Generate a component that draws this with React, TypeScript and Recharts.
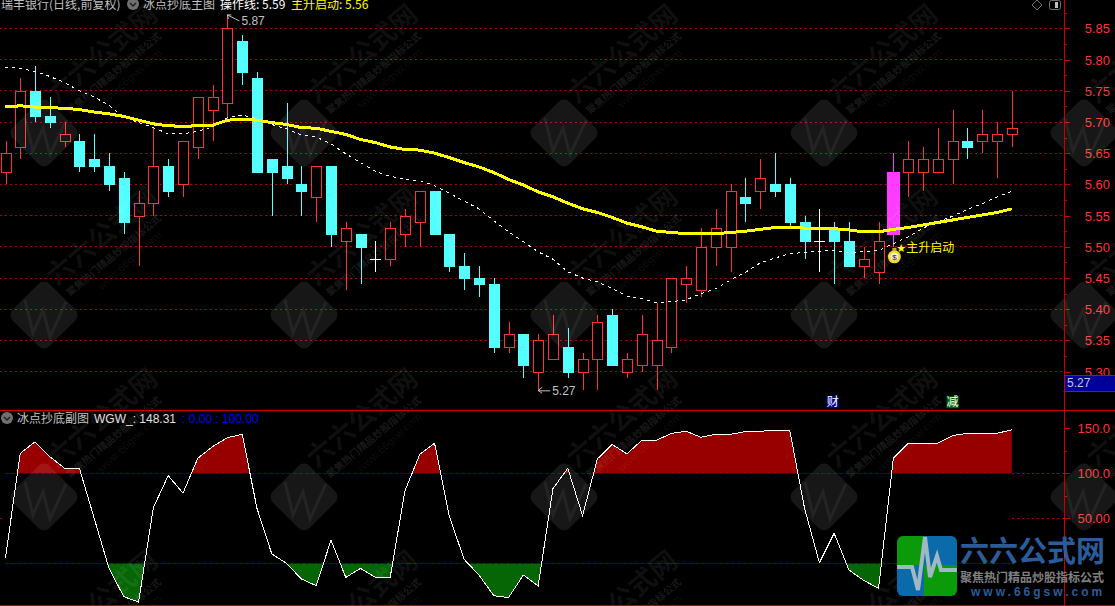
import { Area, Bar, CartesianGrid, ComposedChart, Line, ReferenceDot, ReferenceLine, XAxis, YAxis } from 'recharts';

const opens = [5.62, 5.66, 5.75, 5.71, 5.67, 5.67, 5.64, 5.63, 5.61, 5.55, 5.57, 5.63, 5.60, 5.66, 5.72, 5.73, 5.83, 5.77, 5.64, 5.63, 5.60, 5.58, 5.63, 5.51, 5.52, 5.48, 5.48, 5.52, 5.54, 5.59, 5.52, 5.47, 5.45, 5.44, 5.34, 5.36, 5.30, 5.32, 5.34, 5.30, 5.32, 5.39, 5.30, 5.31, 5.31, 5.34, 5.44, 5.43, 5.50, 5.50, 5.58, 5.59, 5.60, 5.60, 5.54, 5.51, 5.53, 5.51, 5.47, 5.46, 5.52, 5.62, 5.62, 5.62, 5.64, 5.67, 5.67, 5.67, 5.68];
const closes = [5.65, 5.75, 5.71, 5.70, 5.68, 5.63, 5.63, 5.60, 5.54, 5.57, 5.63, 5.59, 5.67, 5.74, 5.74, 5.85, 5.78, 5.62, 5.62, 5.61, 5.59, 5.63, 5.52, 5.53, 5.50, 5.48, 5.53, 5.55, 5.59, 5.52, 5.47, 5.45, 5.44, 5.34, 5.36, 5.31, 5.35, 5.36, 5.30, 5.32, 5.38, 5.31, 5.32, 5.36, 5.35, 5.45, 5.45, 5.50, 5.53, 5.59, 5.57, 5.61, 5.59, 5.54, 5.51, 5.51, 5.51, 5.47, 5.48, 5.51, 5.62, 5.64, 5.64, 5.64, 5.67, 5.66, 5.68, 5.68, 5.69];
const highs = [5.67, 5.77, 5.79, 5.74, 5.70, 5.68, 5.68, 5.65, 5.62, 5.59, 5.69, 5.64, 5.67, 5.74, 5.76, 5.87, 5.84, 5.78, 5.64, 5.73, 5.63, 5.63, 5.63, 5.54, 5.52, 5.51, 5.54, 5.56, 5.59, 5.59, 5.52, 5.49, 5.47, 5.45, 5.38, 5.36, 5.36, 5.39, 5.37, 5.33, 5.39, 5.40, 5.33, 5.39, 5.41, 5.45, 5.47, 5.53, 5.56, 5.60, 5.61, 5.64, 5.65, 5.61, 5.55, 5.56, 5.54, 5.54, 5.50, 5.54, 5.65, 5.67, 5.66, 5.69, 5.72, 5.69, 5.72, 5.70, 5.75];
const lows = [5.60, 5.64, 5.70, 5.69, 5.66, 5.62, 5.62, 5.59, 5.52, 5.47, 5.55, 5.58, 5.58, 5.64, 5.67, 5.70, 5.76, 5.62, 5.55, 5.60, 5.55, 5.54, 5.50, 5.43, 5.44, 5.46, 5.47, 5.50, 5.50, 5.52, 5.46, 5.43, 5.42, 5.33, 5.33, 5.29, 5.27, 5.32, 5.29, 5.27, 5.27, 5.31, 5.29, 5.30, 5.27, 5.33, 5.41, 5.42, 5.47, 5.46, 5.54, 5.56, 5.58, 5.53, 5.48, 5.46, 5.44, 5.47, 5.45, 5.44, 5.50, 5.58, 5.59, 5.62, 5.60, 5.64, 5.65, 5.61, 5.66];
const mainRise = [5.724, 5.726, 5.724, 5.723, 5.722, 5.720, 5.716, 5.713, 5.709, 5.703, 5.697, 5.694, 5.693, 5.694, 5.695, 5.703, 5.704, 5.703, 5.699, 5.696, 5.691, 5.690, 5.685, 5.680, 5.672, 5.667, 5.660, 5.656, 5.655, 5.650, 5.643, 5.635, 5.628, 5.619, 5.608, 5.599, 5.588, 5.580, 5.570, 5.561, 5.555, 5.547, 5.538, 5.532, 5.525, 5.523, 5.521, 5.521, 5.521, 5.523, 5.525, 5.528, 5.531, 5.531, 5.530, 5.529, 5.529, 5.527, 5.524, 5.524, 5.528, 5.531, 5.535, 5.539, 5.543, 5.547, 5.551, 5.555, 5.561];
const operateLine = [5.788, 5.786, 5.781, 5.773, 5.763, 5.750, 5.740, 5.727, 5.708, 5.699, 5.691, 5.681, 5.681, 5.685, 5.692, 5.707, 5.711, 5.705, 5.696, 5.689, 5.679, 5.676, 5.665, 5.649, 5.635, 5.621, 5.613, 5.608, 5.606, 5.598, 5.586, 5.573, 5.561, 5.542, 5.524, 5.508, 5.492, 5.480, 5.460, 5.450, 5.444, 5.433, 5.421, 5.417, 5.410, 5.412, 5.415, 5.425, 5.433, 5.447, 5.459, 5.474, 5.482, 5.489, 5.491, 5.493, 5.494, 5.491, 5.492, 5.494, 5.505, 5.516, 5.530, 5.540, 5.549, 5.560, 5.569, 5.580, 5.589];
const wgw = [5.6, 122, 135, 118.5, 105.6, 105.6, 50, -5.6, -37, -43, 62, 97.4, 78, 116.7, 129.6, 139.6, 143.3, 61, 10.4, 0, -17.4, -24.8, 25.6, -15.6, -5.6, -15.6, -15.6, 80.7, 121, 133.3, 52, 4.4, -13, -36, -38, -13, -25, 83, 105.6, 53, 116, 132, 121.5, 136.7, 136.7, 144.4, 146.7, 140, 143.3, 143.3, 146.3, 146.7, 147.8, 147.8, 61, 0.7, 33.3, -7.4, -19, -27.8, 116.7, 133.3, 133.3, 133.3, 141.9, 144.4, 144.4, 144.4, 148.31];

const priceGrid = [5.30, 5.35, 5.40, 5.45, 5.50, 5.55, 5.60, 5.65, 5.70, 5.75, 5.80, 5.85];
const priceMinor = [5.325, 5.375, 5.425, 5.475, 5.525, 5.575, 5.625, 5.675, 5.725, 5.775, 5.825, 5.875];
const wgwLabels: Record<number, string> = { 150: '150.0', 100: '100.0', 50: '50.00' };
const wgwMinor = [125, 75];
const wgwUpper = 100;
const wgwLower = 0;

const highIndex = 15;
const lowIndex = 36;
const signalIndex = 60;

const candles = opens.map((open, i) => ({ i, open, close: closes[i], range: [lows[i], highs[i]] }));
const wgwRows = wgw.map((value, i) => ({ i, value, upper: wgwUpper, lower: wgwLower }));

const RED = '#ff3232';
const CYAN = '#54ffff';
const DARK_RED = '#c80000';
const GRID_RED = '#b00000';
const BLUE = '#0000d8';
const SANS = '"Liberation Sans", Arial, sans-serif';
const CJK = '"Noto Sans CJK SC", sans-serif';
const X_DOMAIN = [-0.365, 71.53];

const wgwMax = Math.max(...wgw);
const wgwMin = Math.min(...wgw);
const redStop = (wgwMax - wgwUpper) / (wgwMax - wgwMin);
const greenStop = wgwMax / (wgwMax - wgwMin);

const Candle = (props: any) => {
  const { x, y, width, height, payload, index } = props;
  const [low, high] = payload.range;
  const priceY = (p: number) => Math.round(y + ((high - p) / (high - low)) * height);
  const mid = Math.round(x + width / 2);
  const top = priceY(Math.max(payload.open, payload.close));
  const bottom = priceY(Math.min(payload.open, payload.close));
  const rising = payload.close > payload.open;
  const doji = payload.close === payload.open;
  const signal = index === signalIndex;
  let color = rising ? RED : CYAN;
  if (doji) color = '#ffffff';
  if (signal) color = '#ff3cff';
  const half = signal ? 6 : 5;
  return (
    <g shapeRendering="crispEdges">
      <line x1={mid + 0.5} x2={mid + 0.5} y1={Math.round(y)} y2={Math.round(y + height)} stroke={color} />
      {doji ? (
        <line x1={mid - half} x2={mid + half + 1} y1={top + 0.5} y2={top + 0.5} stroke={color} />
      ) : (
        <rect
          x={mid - half + 0.5}
          y={top + 0.5}
          width={half * 2}
          height={bottom - top}
          fill={rising && !signal ? '#000000' : color}
          stroke={color}
        />
      )}
    </g>
  );
};

const AxisTick = ({ x, y, payload, label }: any) => {
  const text = label(payload.value);
  return (
    <g>
      <line x1={x} x2={x + (text ? 6 : 3)} y1={Math.round(y) + 0.5} y2={Math.round(y) + 0.5} stroke={DARK_RED} shapeRendering="crispEdges" />
      {text && (
        <text x={1110} y={y + 5} textAnchor="end" fill={RED} fontSize={13} fontFamily={SANS}>
          {text}
        </text>
      )}
    </g>
  );
};

const HighMark = ({ cx, cy }: any) => (
  <g>
    <polyline points={`${cx + 4},${cy - 1} ${cx},${cy - 1} ${cx + 1},${cy + 3}`} fill="none" stroke="#c0c0c0" />
    <polyline points={`${cx},${cy - 1} ${cx + 8},${cy + 3} ${cx + 12},${cy + 5}`} fill="none" stroke="#c0c0c0" />
    <text x={cx + 14} y={cy + 9} fill="#c0c0c0" fontSize={12} fontFamily={SANS}>5.87</text>
  </g>
);

const LowMark = ({ cx, cy }: any) => (
  <g>
    <polyline points={`${cx + 4},${cy - 3} ${cx},${cy} ${cx + 4},${cy + 3}`} fill="none" stroke="#c0c0c0" />
    <line x1={cx} x2={cx + 12} y1={cy + 0.5} y2={cy + 0.5} stroke="#c0c0c0" />
    <text x={cx + 14} y={cy + 5} fill="#c0c0c0" fontSize={12} fontFamily={SANS}>5.27</text>
  </g>
);

const SignalMark = ({ cx, cy }: any) => (
  <g>
    <circle cx={cx + 1} cy={cy + 10} r={6.5} fill="#f4d820" />
    <circle cx={cx + 1} cy={cy + 10} r={4} fill="#f8f0d0" />
    <rect x={cx - 1} y={cy + 1} width={4} height={3} fill="#c8a820" />
    <text x={cx + 1} y={cy + 13} textAnchor="middle" fontSize={8} fill="#202020" fontFamily={SANS}>$</text>
    <text x={cx + 3} y={cy + 5} fill="#ffff00" fontSize={11} fontFamily='"DejaVu Sans"'>★</text>
    <text x={cx + 13} y={cy + 5} fill="#ffff00" fontSize={12} fontFamily={CJK}>主升启动</text>
  </g>
);

const NewsBadge = ({ cx, cy, text, bg, shift }: any) => (
  <g>
    <rect x={cx + shift - 6} y={cy - 6} width={12} height={12} fill={bg} />
    <text x={cx + shift} y={cy + 4} textAnchor="middle" fill="#ffffff" fontSize={12} fontFamily={CJK}>{text}</text>
  </g>
);

const Watermark = ({ cx, cy }: { cx: number; cy: number }) => (
  <g transform={`translate(${cx} ${cy})`} fill="#ffffff">
    <rect x={-26} y={-26} width={52} height={52} rx={8} transform="rotate(45)" fillOpacity={0.09} />
    <polyline points="-19,-15 -11,18 -1,-5 6,22 22,-13" fill="none" stroke="#ffffff" strokeOpacity={0.06} strokeWidth={3} />
    <text transform="translate(64 -72) rotate(-40)" textAnchor="middle" fontSize={27} fontWeight={700} fontFamily={CJK} fillOpacity={0.07}>六六公式网</text>
    <text transform="translate(72 -57) rotate(-40)" textAnchor="middle" fontSize={10} fontWeight={700} fontFamily={CJK} fillOpacity={0.11}>聚焦热门精品炒股指标公式</text>
    <text transform="translate(88 -52) rotate(-42)" textAnchor="middle" fontSize={11} fontFamily={SANS} fillOpacity={0.07}>www.66gsw.com</text>
  </g>
);

const watermarkCols = [44, 304, 564, 824, 1084];
const watermarkRows = [133, 315, 497, 679];

const Overlay = () => (
  <svg width={1115} height={606} style={{ position: 'absolute', left: 0, top: 0 }}>
    <defs>
      <clipPath id="logoClip">
        <rect x={897} y={536} width={60} height={60} rx={6} />
      </clipPath>
    </defs>
    {watermarkRows.map((cy) => watermarkCols.map((cx) => <Watermark key={`${cx}-${cy}`} cx={cx} cy={cy} />))}

    <g shapeRendering="crispEdges" stroke={DARK_RED}>
      <line x1={0} x2={1115} y1={410.5} y2={410.5} />
      <line x1={0} x2={1115} y1={605.5} y2={605.5} />
      <line x1={1064.5} x2={1064.5} y1={0} y2={606} />
      <rect x={1065} y={375} width={50} height={16} fill="#000099" stroke="none" />
      <line x1={1065} x2={1115} y1={375.5} y2={375.5} />
      <line x1={1065} x2={1115} y1={391.5} y2={391.5} />
    </g>
    <text x={1067} y={387} fill="#c8c8c8" fontSize={12} fontFamily={SANS}>5.27</text>

    <text x={1} y={9} fill="#c0c0c0" fontSize={12} fontFamily={CJK}>瑞丰银行(日线,前复权)</text>
    <circle cx={133} cy={4} r={6} fill="#707070" />
    <polyline points="130,3 133,6 136,3" fill="none" stroke="#202020" strokeWidth={1.5} />
    <text x={143} y={9} fill="#c0c0c0" fontSize={12} fontFamily={CJK}>冰点抄底主图</text>
    <text x={220} y={9} fill="#ffffff" fontSize={12} fontFamily={CJK}>操作线: 5.59</text>
    <text x={291} y={9} fill="#ffff00" fontSize={12} fontFamily={CJK}>主升启动: 5.56</text>
    <polygon points="1037,0 1042,5 1037,10 1032,5" fill="none" stroke="#707070" />
    <rect x={1049.5} y={0.5} width={11} height={9} rx={2} fill="none" stroke="#707070" />
    <rect x={1055} y={2} width={3} height={6} fill="#c0c0c0" />

    <circle cx={7} cy={418} r={6} fill="#707070" />
    <polyline points="4,417 7,420 10,417" fill="none" stroke="#202020" strokeWidth={1.5} />
    <text x={17} y={423} fill="#c0c0c0" fontSize={12} fontFamily={CJK}>冰点抄底副图</text>
    <text x={94} y={423} fill="#e0e0e0" fontSize={12} fontFamily={SANS}>WGW_: 148.31</text>
    <text x={182} y={423} fill="#0000ff" fontSize={12} fontFamily={SANS}>: 0.00 : 100.00</text>

    <g clipPath="url(#logoClip)">
      <rect x={897} y={536} width={27} height={29} fill="#0a9a0a" />
      <rect x={924} y={536} width={33} height={29} fill="#0a6aaa" />
      <rect x={897} y={565} width={27} height={31} fill="#0a6aaa" />
      <rect x={924} y={565} width={33} height={31} fill="#0a9a0a" />
      <polyline points="897,567 912,567 918,590 925,537 930,577 937,556 941,570 957,570" fill="none" stroke="#a0b8c4" strokeWidth={4} />
    </g>
    <text x={960} y={562} fill="#2a5c9c" fontSize={29} fontWeight={700} fontFamily={CJK}>六六公式网</text>
    <text x={960} y={582} fill="#808080" fontSize={12} fontWeight={700} fontFamily={CJK}>聚焦热门精品炒股指标公式</text>
    <text x={971} y={596} fill="#2a5c9c" fontSize={12} fontWeight={700} letterSpacing={3} fontFamily={SANS}>www.66gsw.com</text>
  </svg>
);

const App = () => {
  const mainTable = candles.map((c, i) => ({ ...c, mainRise: mainRise[i], operateLine: operateLine[i] }));
  return (
    <div style={{ position: 'fixed', left: 0, top: 0, width: 1115, height: 606, background: '#000000', overflow: 'hidden' }}>
      <style>{'.recharts-line-curve, .recharts-cartesian-grid line, .recharts-reference-line line { shape-rendering: crispEdges; }'}</style>
      <div style={{ position: 'absolute', left: 0, top: 0 }}>
        <ComposedChart width={1115} height={410} data={mainTable} margin={{ top: 0, right: 0, bottom: 0, left: 0 }}>
          <CartesianGrid vertical={false} horizontalValues={priceGrid} stroke={GRID_RED} strokeDasharray="2 3" />
          <XAxis dataKey="i" type="number" domain={X_DOMAIN} allowDataOverflow hide />
          <YAxis
            orientation="right"
            width={51}
            domain={[5.2385, 5.8955]}
            allowDataOverflow
            ticks={[...priceGrid, ...priceMinor]}
            interval={0}
            axisLine={false}
            tickLine={false}
            tickSize={0}
            tickMargin={0}
            tick={<AxisTick label={(v: number) => (priceGrid.includes(v) ? v.toFixed(2) : '')} />}
          />
          <Bar dataKey="range" barSize={11} shape={<Candle />} isAnimationActive={false} />
          <Line dataKey="operateLine" type="linear" stroke="#ffffff" strokeWidth={1} strokeDasharray="3 4" dot={false} isAnimationActive={false} />
          <Line dataKey="mainRise" type="linear" stroke="#ffff00" strokeWidth={3} dot={false} isAnimationActive={false} />
          <ReferenceDot x={highIndex} y={highs[highIndex]} shape={<HighMark />} />
          <ReferenceDot x={lowIndex} y={lows[lowIndex]} shape={<LowMark />} />
          <ReferenceDot x={signalIndex} y={lows[signalIndex]} shape={<SignalMark />} />
          <ReferenceDot x={56} y={5.251} shape={<NewsBadge text="财" bg="#000090" shift={-1.5} />} />
          <ReferenceDot x={64} y={5.251} shape={<NewsBadge text="减" bg="#006400" shift={0} />} />
        </ComposedChart>
      </div>
      <div style={{ position: 'absolute', left: 0, top: 411 }}>
        <ComposedChart width={1115} height={195} data={wgwRows} margin={{ top: 0, right: 0, bottom: 0, left: 0 }}>
          <defs>
            <linearGradient id="wgwRed" x1="0" y1="0" x2="0" y2="1">
              <stop offset={redStop} stopColor="#980000" stopOpacity={1} />
              <stop offset={redStop} stopColor="#980000" stopOpacity={0} />
            </linearGradient>
            <linearGradient id="wgwGreen" x1="0" y1="0" x2="0" y2="1">
              <stop offset={greenStop} stopColor="#066606" stopOpacity={0} />
              <stop offset={greenStop} stopColor="#066606" stopOpacity={1} />
            </linearGradient>
          </defs>
          <XAxis dataKey="i" type="number" domain={X_DOMAIN} allowDataOverflow hide />
          <YAxis
            orientation="right"
            width={51}
            domain={[-47.4, 169.2]}
            allowDataOverflow
            ticks={[150, 100, 50, ...wgwMinor]}
            interval={0}
            axisLine={false}
            tickLine={false}
            tickSize={0}
            tickMargin={0}
            tick={<AxisTick label={(v: number) => wgwLabels[v] || ''} />}
          />
          <ReferenceLine segment={[{ x: 68, y: 100 }, { x: 71.53, y: 100 }]} stroke={GRID_RED} strokeDasharray="2 3" />
          <ReferenceLine segment={[{ x: -0.365, y: 50 }, { x: 0, y: 50 }]} stroke={GRID_RED} strokeDasharray="2 3" />
          <ReferenceLine segment={[{ x: 68, y: 50 }, { x: 71.53, y: 50 }]} stroke={GRID_RED} strokeDasharray="2 3" />
          <Area dataKey="value" type="linear" baseValue={wgwUpper} stroke="none" fill="url(#wgwRed)" fillOpacity={1} dot={false} activeDot={false} isAnimationActive={false} />
          <Area dataKey="value" type="linear" baseValue={wgwLower} stroke="none" fill="url(#wgwGreen)" fillOpacity={1} dot={false} activeDot={false} isAnimationActive={false} />
          <Line dataKey="upper" type="linear" stroke={BLUE} strokeWidth={1} strokeDasharray="4 2" dot={false} isAnimationActive={false} />
          <Line dataKey="lower" type="linear" stroke={BLUE} strokeWidth={1} strokeDasharray="4 2" dot={false} isAnimationActive={false} />
          <Line dataKey="value" type="linear" stroke="#ffffff" strokeWidth={1} dot={false} isAnimationActive={false} />
        </ComposedChart>
      </div>
      <Overlay />
    </div>
  );
};

export default App;
